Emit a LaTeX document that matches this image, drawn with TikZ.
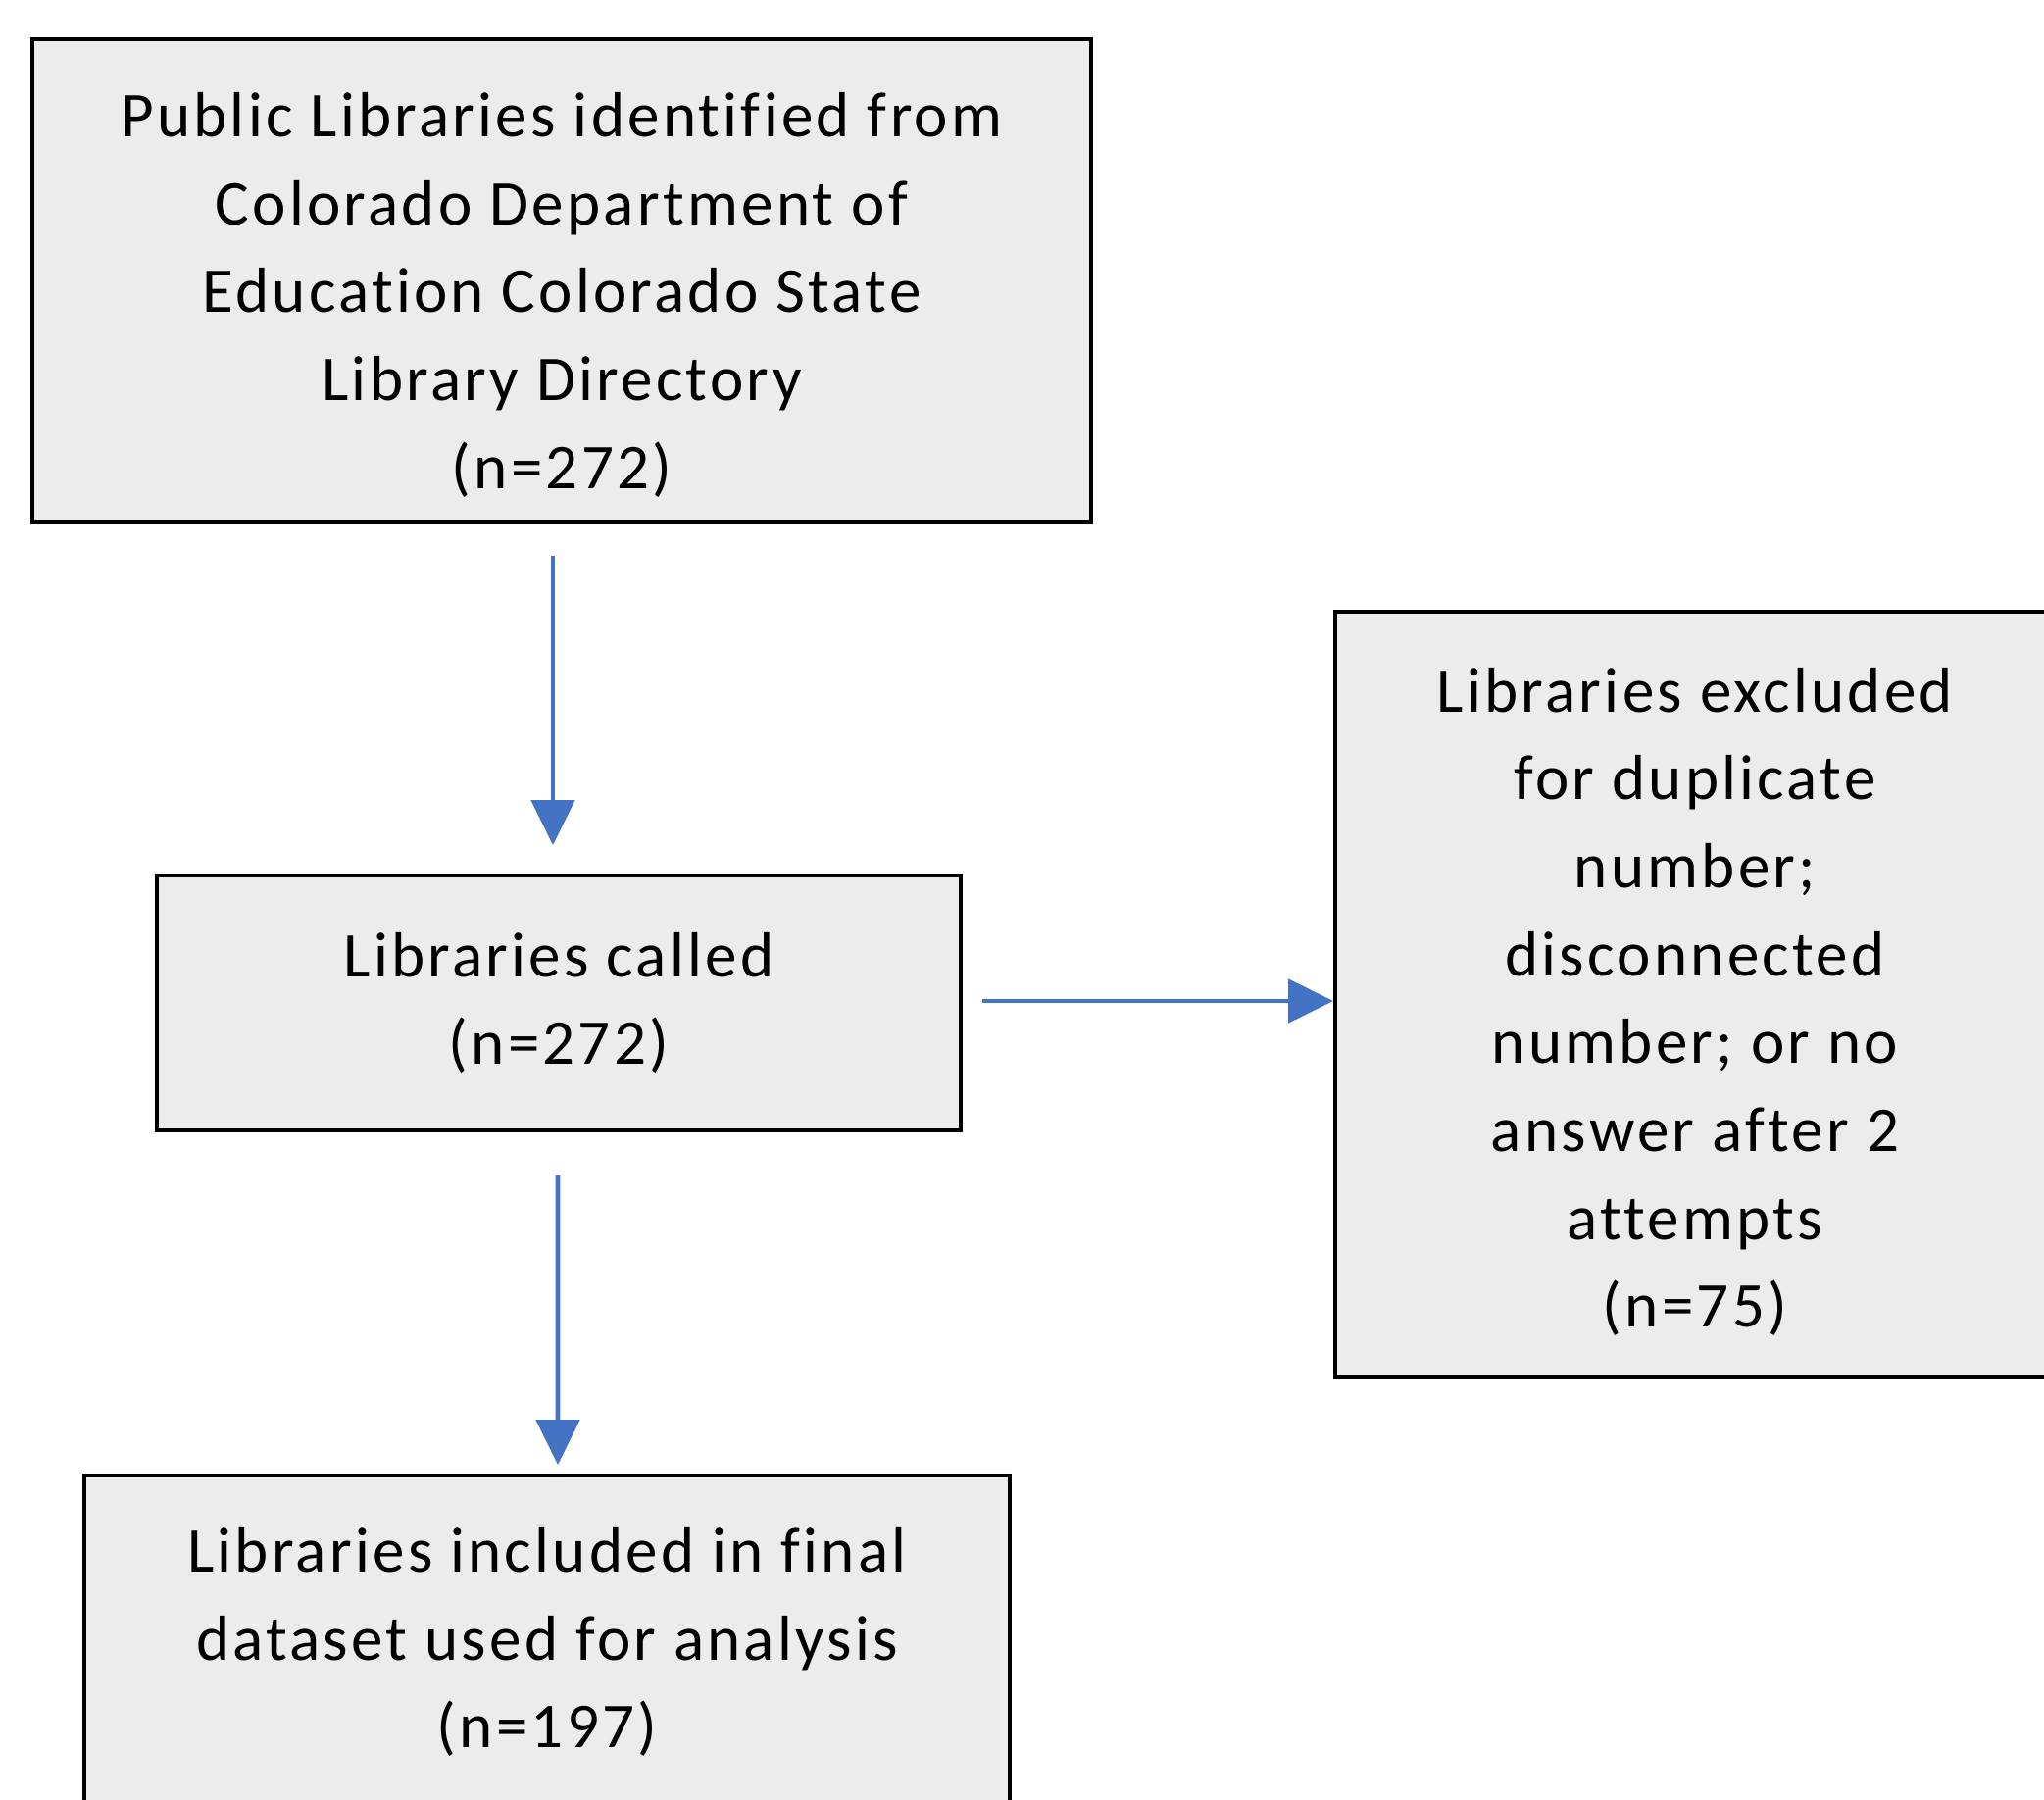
\documentclass[tikz,border=0pt]{standalone}
\usepackage{fontspec}
\setmainfont{Carlito}[LetterSpace=5.0, Ligatures=NoCommon]
\usepackage{tikz}
\usetikzlibrary{arrows.meta}
\definecolor{boxgray}{HTML}{ECECEC}
\definecolor{arrowblue}{HTML}{4472C4}

\begin{document}
\begin{tikzpicture}[
  record/.style ={draw, fill=boxgray, line width=1.1pt, align=center,
    inner sep=0pt, font=\fontsize{18.5}{25.5}\selectfont},
  flow/.style ={arrowblue, line width=1.4pt,
    -{Triangle[width=0.44cm, length=0.46cm]}}]
 \clip (0,0) rectangle (20.85,18.35);
 \fill[white] (0,0) rectangle (20.85,18.35);

 \node[record, minimum width=10.80cm, minimum height=4.92cm] (A) at (5.73,15.49)
  {\rule{0pt}{0.75cm}Public Libraries identified from\\Colorado Department of\\Education Colorado State\\Library Directory\\(n=272)};
 \node[record, minimum width=8.20cm, minimum height=2.60cm] (B) at (5.70,8.12)
  {Libraries called\\(n=272)};
 \node[record, minimum width=7.34cm, minimum height=7.81cm] (C) at (17.29,8.205)
  {\rule{0pt}{0.6cm}Libraries excluded\\for duplicate\\number;\\disconnected\\number; or no\\answer after 2\\attempts\\(n=75)};
 \node[record, minimum width=9.44cm, minimum height=3.40cm] (D) at (5.58,1.60)
  {Libraries included in final\\dataset used for analysis\\(n=197)};

 \draw[flow, shorten <=0.33cm, shorten >=0.29cm] ([xshift=-0.06cm]A.south -| B.north) -- ([xshift=-0.06cm]B.north);
 \draw[flow, shorten <=0.20cm] (B.east |- 0,8.14) -- (C.west |- 0,8.14);
 \draw[flow, shorten <=0.44cm, shorten >=0.09cm] ([xshift=-0.01cm]B.south) -- ([xshift=0.11cm]D.north);
\end{tikzpicture}
\end{document}
